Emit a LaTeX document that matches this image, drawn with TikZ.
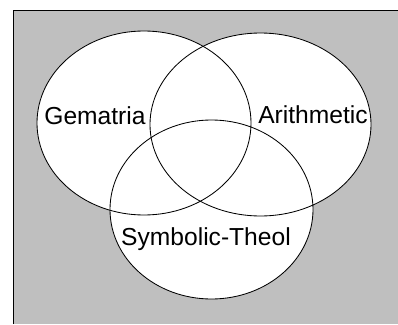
\documentclass[tikz,border=0pt]{standalone}
\usepackage{fontspec}
\setmainfont{Liberation Sans}
\definecolor{panelgray}{gray}{0.75}
\begin{document}
\begin{tikzpicture}[line width=0.6pt, font=\fontsize{17.5}{21}\selectfont]
    \useasboundingbox (0,0) rectangle (9.95,8.1);
    % background panel
    \fill[panelgray] (0.325,0) rectangle (9.95,7.85);
    \draw (0.325,0) -- (0.325,7.85) -- (9.95,7.85);
    % sets
    \fill[white] (3.6,5.025) ellipse (2.675 and 2.3);
    \fill[white] (6.5125,4.9875) ellipse (2.7625 and 2.2875);
    \fill[white] (5.2875,2.8625) ellipse (2.5375 and 2.2375);
    \draw (3.6,5.025) ellipse (2.675 and 2.3);
    \draw (6.5125,4.9875) ellipse (2.7625 and 2.2875);
    \draw (5.2875,2.8625) ellipse (2.5375 and 2.2375);
    \node (gem) at (2.375,5.2) {Gematria};
    \node (ari) at (7.825,5.225) {Arithmetic};
    \node (sym) at (5.15,2.125) {Symbolic-Theol};
\end{tikzpicture}
\end{document}
